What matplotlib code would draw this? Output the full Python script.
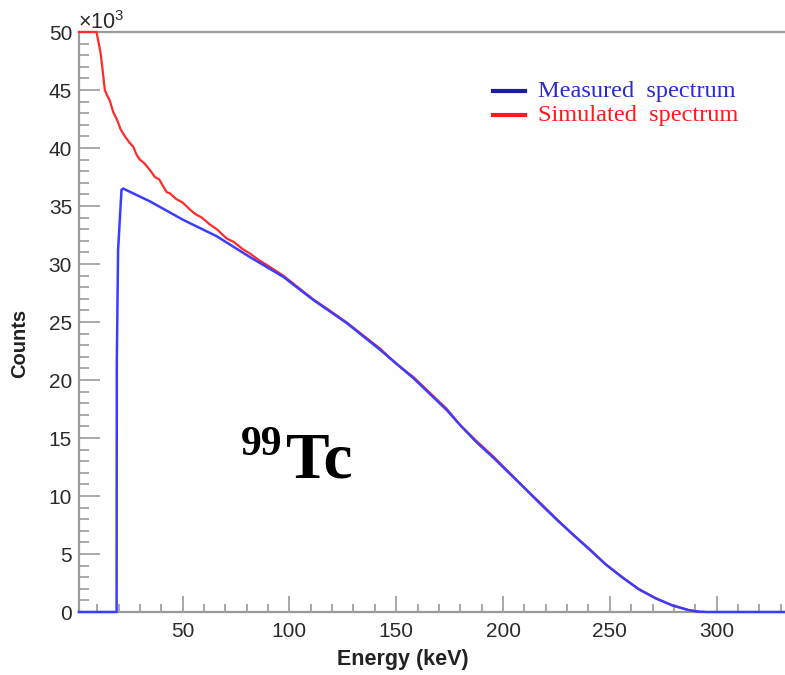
import matplotlib
matplotlib.use("Agg")
import matplotlib.pyplot as plt
from matplotlib.lines import Line2D
from matplotlib.ticker import MultipleLocator

plt.rcParams['font.family'] = ['Liberation Sans', 'DejaVu Sans']
plt.rcParams['mathtext.fontset'] = 'custom'
plt.rcParams['mathtext.rm'] = 'Liberation Sans'

# measured spectrum (energy in keV, counts in units of 10^3)
meas_E = [1.5, 19.1, 19.2, 19.8, 20.9, 21.4, 22.2, 34.7, 50.3, 65.9, 81.5, 97.1,
          111.2, 126.9, 142.5, 158.1, 173.7, 180.0, 187.8, 195.5, 211.1, 217.2,
          224.9, 232.6, 240.4, 248.1, 255.9, 263.6, 271.4, 279.1, 286.8, 291.5,
          296.0, 332.0]
meas_C = [0, 0, 21.6, 31.2, 34.8, 36.4, 36.5, 35.4, 33.8, 32.4, 30.6, 28.9,
          26.9, 24.9, 22.6, 20.15, 17.4, 16.1, 14.6, 13.3, 10.5, 9.37,
          8.0, 6.7, 5.4, 4.1, 2.97, 1.96, 1.18, 0.58, 0.17, 0.03,
          0.0, 0.0]

# simulated spectrum
sim_E = [1.5, 9.7, 11.6, 12.5, 13.6, 14.5, 15.9, 17.5, 19.4, 21.0, 23.0, 25.0,
         26.9, 28.5, 30.0, 32.0, 34.7, 37.0, 39.0, 42.5, 44.0, 47.0, 50.0, 53.4,
         56.0, 59.0, 62.8, 66.0, 70.6, 74.0, 78.0, 81.5, 86.0, 90.0, 97.1, 111.2,
         118.0, 125.0, 126.9, 142.5, 150.0, 158.1, 173.7, 180.0, 187.8, 195.5,
         211.1, 217.2, 224.9, 232.6, 240.4, 248.1, 255.9, 263.6, 271.4, 279.1,
         286.8, 292.0]
sim_C = [50, 50, 48.2, 46.8, 45.0, 44.6, 44.1, 43.1, 42.4, 41.6, 41.0, 40.5,
         40.1, 39.4, 39.0, 38.7, 38.1, 37.5, 37.3, 36.2, 36.1, 35.6, 35.3, 34.7,
         34.3, 34.0, 33.4, 33.0, 32.2, 31.9, 31.3, 30.9, 30.3, 29.85, 29.0, 26.95,
         26.1, 25.2, 24.95, 22.7, 21.4, 20.25, 17.5, 16.1, 14.7, 13.4,
         10.5, 9.45, 8.05, 6.7, 5.45, 4.1, 3.0, 1.96, 1.2, 0.58,
         0.17, 0.0]

W, H = 785, 675
fig = plt.figure(figsize=(W / 100, H / 100), dpi=100)
ax = fig.add_axes([79 / W, (H - 612) / H, (W - 79) / W, 580 / H])

ax.plot(sim_E, sim_C, color='#ff2a2a', lw=1.6, clip_on=False, zorder=3)
ax.plot(meas_E, meas_C, color='#3c3cff', lw=1.8, clip_on=False, zorder=4)

ax.set_xlim(1.5, 332)
ax.set_ylim(0, 50)
ax.xaxis.set_major_locator(MultipleLocator(50))
ax.xaxis.set_minor_locator(MultipleLocator(10))
ax.yaxis.set_major_locator(MultipleLocator(5))
ax.yaxis.set_minor_locator(MultipleLocator(1))

gray = '#9a9a9a'
for s in ['left', 'bottom', 'top']:
    ax.spines[s].set_color(gray)
    ax.spines[s].set_linewidth(1.6)
ax.spines['right'].set_visible(False)

ax.tick_params(axis='x', which='major', direction='in', length=11.5, width=1.2,
               color=gray, labelsize=15, pad=7, labelcolor='#2a2a2a')
ax.tick_params(axis='x', which='minor', direction='in', length=5.8, width=1.2, color=gray)
ax.tick_params(axis='y', which='major', direction='in', length=15, width=1.2,
               color=gray, labelsize=15, pad=5, labelcolor='#2a2a2a')
ax.tick_params(axis='y', which='minor', direction='in', length=7.5, width=1.2, color=gray)
ax.tick_params(top=False, right=False, which='both')

ax.set_xticks([50, 100, 150, 200, 250, 300])
ax.set_yticks([0, 5, 10, 15, 20, 25, 30, 35, 40, 45, 50])

fig.text(403 / W, 1 - 660 / H, 'Energy (keV)', ha='center', va='center',
         fontsize=15.5, fontweight='bold', color='#222222')
fig.text(20 / W, 1 - 343 / H, 'Counts', ha='center', va='center', rotation=90,
         fontsize=14.5, fontweight='bold', color='#222222')
fig.text(78 / W, 1 - 29 / H, r'×10$^{3}$', ha='left', va='baseline',
         fontsize=15.5, color='#2a2a2a')

# legend
legend_items = [('Measured  spectrum', '#1c1ca8', '#2a2ad0', 90.5),
                ('Simulated  spectrum', '#ff1a1a', '#ff1a1a', 115)]
for label, lc, tc, ypx in legend_items:
    fig.add_artist(Line2D([493 / W, 525 / W], [1 - ypx / H, 1 - ypx / H],
                          transform=fig.transFigure, color=lc, lw=3))
    fig.text(538 / W, 1 - (ypx + 6) / H, label, ha='left', va='baseline',
             fontsize=17.5, family='Liberation Serif', color=tc)

# isotope label
fig.text(241 / W, 1 - 455 / H, '99', ha='left', va='baseline', fontsize=30,
         family='Liberation Serif', fontweight='bold', color='black')
fig.text(286 / W, 1 - 477 / H, 'Tc', ha='left', va='baseline', fontsize=47,
         family='Liberation Serif', fontweight='bold', color='black')

fig.savefig('out.png', dpi=100)
